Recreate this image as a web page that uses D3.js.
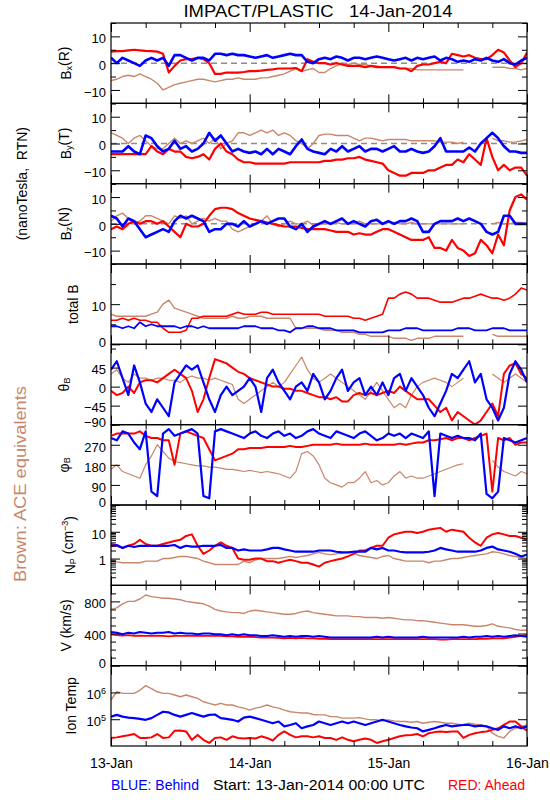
<!DOCTYPE html>
<html><head><meta charset="utf-8">
<script src="https://cdn.jsdelivr.net/npm/d3@7"></script>
<style>
body{margin:0;background:#fff}
text{font-family:"Liberation Sans",Arial,Helvetica,sans-serif;fill:#000}
</style>
</head><body>
<svg id="c" width="550" height="800"></svg>
<script>
// ---- time axis (hours after 13-Jan-2014 00:00 UTC) ----
const hours = d3.range(0, 73);
const dayLabels = ["13-Jan", "14-Jan", "15-Jan", "16-Jan"];

// ---- Bx (R) ----
const bxBlue = [2,0,2,1,0,-1,1, 2,1,2,-1,3,3, 2,1,2,2,1,3.5, 3.5,3,3.5,3,3,2.5, 2,2.5,3,2,2.5,3, 3.5,3,3,0.5,0,1.5, 2,1.5,2.5,2,1,2, 2,1.5,2,2.5,2,1.5, 1,1.5,2,1,2,1.5, 2,2.5,1,2,1.5,0.5, 1,0.5,1.5,1,2,1, 0.5,1.5,0,-0.5,1,2];
const bxRed = [4.3,4.5,4.5,4.8,5,4.8,4.6, 4.5,4.3,3.5,-3.5,-1,1, 1.5,1.5,2,1.5,0,-4, -4,-3.5,-3.5,-3.5,-3.3,-3, -3,-2.8,-2.5,-2.3,-2,-2, -2,-1.8,-3,1.5,0.5,0, 0,-0.5,0,-0.5,-1,-1, -1,-1.5,-1,-1.5,-1.5,-1.5, -1.5,-2,-2,-3,-1,-0.5, -0.5,0,0.5,0,3.5,3, 2.5,3,2,1.5,1.5,3, 5,4,1,-1.5,0,4];
const bxBrown = [-6.5,-6,-5,-4.5,-5,-4,-5, -6,-7.5,-10,-9,-8,-7.5, -7,-6.5,-6,-6,-6.5,-7, -6.5,-6,-6,-5.5,-6,-6, -6,-5.5,-5.5,-5,-4.5,-4, -3,-2,-3,-2.5,-2,-3.5, -3.5,-2,-1,0,-0.5,0, -0.5,-0.5,-1,-1,-1.5,-1.5, -1.5,-2,-2,-2,-2.5,-2.5, -2.5,-2.5,-2.5,-2.5,-2.5,-2.5, -2.5,null,null,null,null,-1.5, -1.5,-1.5,-2,-2,-2.5,-2];

// ---- By (T) ----
const byBlue = [-3,-3,-3,-1,-3,-4,3, 2,-1,-3,-2,1,-2, -1,-3,-2,0,4,1, 3,0,-3,-2,-3,-3.5, -3,-4,-2,-4,-2,-3, -4,-1,1.5,-2,-3,-3.5, -4,-2,-3,-1,-3,-2, -1,-3,-2,-2,-3,-2, -1,-3,-3,-2,-3,-3.5, -3,-1,2,-3,-3,-3, -3,-1.5,-3,0,2,4, 2,-1,-3,-3,-3.5,-3.5];
const byRed = [-4,-4,-4,-4,-4,-4,-4, -1,-3,-4,-2,-3,-3, -5,-5.5,-5,-4,-6,-2, 0,-3,-4,-6,-7,-7, -7.5,-7.5,-7.5,-7.5,-7.5,-7.5, -7,-7,-7,-7,-7,-7, -6.5,-6.5,-6,-6,-5.5,-5.5, -5,-6,-6.5,-7,-7.5,-10, -11,-12,-12,-11,-11,-11, -10,-10,-9,-8,-8,-6, -7,-4,-6,-8,2,-5, -10,-8,-10,-9,-9,-12];
const byBrown = [4,3,2,0,2,3,1, -1,-2,-2,0,2,0, 1,0,1,2,0,2, -2,0,1,4,4,3, 4,5,4,5,3,4, 3,1,0,-2,0,3, 3.5,3.5,3,3,3,2, 1,2,2,1.5,1,1.5, 1.5,1.5,1.5,1,1,1, 1,1,0.5,0.5,0.5,0, 0.5,null,null,null,null,2, 1,1,0.5,0.5,1,1.5];

// ---- Bz (N) ----
const bzBlue = [3,2,-1,2,1,-2,-5, -4,-3,-2,-3,1,3, 2,3,2,1,-3,-2, -2,0,0,-1,1,-1, 0,1,0,1,2,2, -1,-2,0,-3,-1,0, 1,0,1,2,0,1, 0,-1,1,1.5,0,1, 0,1,1,2,1,-3, -3,0,1,1,1,2, 1,2,1,0,-3,-4, -3,3,3,0,0,0];
const bzRed = [-2,-1,-2,0,1,0,1, 1,0,1,-1,-3,-5, 0,-1,-1,0,3,5.5, 6,6,5.5,4,3,2, 1.5,1,0.5,0,-0.5,-1, -1,-1,-1.5,-2,-2,-2, -2,-2.5,-3,-3,-3,-4, -3.5,-4,-4,-3,-2,-2, -3,-4,-5,-6,-6,-6, -5,-9,-9,-10,-6,-9, -10,-12,-11,-6,-8,-11, -4,-8,5,10,11,9];
const bzBrown = [1,3,4,2,0,1,3, 3,2,1,0,3,2, 3,0,1,2,1,2, 1,1,-2,-3,-2,-1, 0,1,3,0,-1,0, 1,0,0,1,-0.5,0, 0,0,0.5,0,0,0, 1,0,0,0,0,0.5, 0.5,0,0,0.5,0,0, 0,0,0,0,0,0, 0,null,null,null,null,0, 0.5,0,0,0.5,0.5,0];

// ---- total B ----
const btBlue = [4.5,4.5,4,4.5,4,5.5,4.5, 5,4.5,4.5,4.5,4.5,4, 4.5,4.5,4,4.5,4,4, 4,4,4,4,4.5,4.5, 4.5,4,4,4,3.5,3.5, 3,4,4,4.5,4.5,4, 4,4,3.5,3.5,3.5,3.5, 3,3,3,3,3,3.5, 3.5,3.5,4,4,4,3.5, 3.5,3.5,3.5,3.5,3.5,4, 4,4,3.5,3.5,3.5,4, 4,4,3.5,3.5,3.5,3.5];
const btRed = [6,6,6.5,6,6.5,6,6, 5.5,5.5,4,3,3,3, 3.5,6.5,6.5,7,7,7, 7,7,7.5,8,7.5,7.5, 7.5,8,8,7.5,7.5,7.5, 7.5,7.5,7.5,7.5,7.5,7.5, 7,7,7,7,7,6.5, 6.5,6,6.5,7,7.5,11.5, 11.5,12.5,13,12.5,11.5,11.5, 11.5,11,10.5,10.5,10.5,11, 11.5,11.5,12,12.5,12,11.5, 11.5,11,11.5,12.5,14,13.5];
const btBrown = [7.5,7,7,7,7,7,7, 7.5,8,10,11,9,8.5, 8,7.5,7,6.5,6.5,6.5, 6.5,6.5,7,6.5,6.5,7, 7,7,6.5,6.5,6.5,6.5, 6.5,4,4,4,4,4, 3.5,3.5,3.5,3,3,3, 2.5,2.5,2,2,2,2, 1.5,1.5,1.5,1,1.5,1.5, 1.5,2,2,2,2,2, 2,null,null,null,null,2.5, 2,2,2,2,2,2];

// ---- theta_B (deg) ----
const thBlue = [40,60,20,-20,50,10,-40, -60,-30,-50,-70,10,30, 50,40,50,10,-30,-60, -20,0,-20,-10,0,20, 0,-60,20,40,10,-10, -30,0,10,-10,30,10, -30,-10,20,40,-10,10, 20,-20,0,-20,10,-20, 20,30,-10,20,0,-20, -50,-70,-40,-10,30,20, 40,60,10,30,-30,-50, -80,-50,30,60,40,10];
const thRed = [-10,-20,-15,0,-15,10,15, 15,10,20,30,40,30, 20,-10,-60,-30,20,65, 60,55,45,35,30,20, 15,10,5,0,0,-5, -5,-10,-10,-15,-20,-25, -25,-30,-25,-35,-35,-20, -15,-20,-15,-20,-15,-10, -15,0,-10,-20,-30,-30, -30,-45,-60,-50,-80,-60, -70,-80,-90,-80,-60,-40, -70,30,50,55,30,20];
const thBrown = [30,40,20,10,30,20,20, 15,20,20,15,15,10, 20,25,20,20,15,20, 15,10,5,-30,-40,-30, -20,-10,0,10,0,10, 30,50,70,40,20,10, 20,30,20,10,0,-10, -20,-30,-10,10,-10,-30, -50,-40,-50,-20,0,10, 15,20,15,10,0,10, 20,null,null,null,null,30, 20,10,20,30,20,10];

// ---- phi_B (deg) ----
const phBlue = [300,290,330,320,280,250,330, 60,40,320,340,310,320, 330,340,320,40,30,330, 340,330,320,310,300,320, 330,310,300,320,330,310, 320,300,310,330,340,320, 310,300,330,320,310,300, 320,330,310,290,300,320, 310,320,300,320,310,300, 330,40,320,310,300,310, 300,300,290,320,50,30, 60,300,290,280,290,300];
const phRed = [310,320,320,320,320,330,310, 300,300,290,290,180,320, 330,320,310,300,250,200, 210,220,230,250,250,255, 255,255,260,260,260,260, 265,260,260,265,270,270, 270,270,275,270,270,270, 270,275,270,270,270,270, 270,275,270,275,280,280, 290,290,295,300,290,300, 300,290,300,310,320,60, 300,290,300,270,280,280];
const phBrown = [160,180,150,140,130,120,180, 220,270,240,210,195,190, 185,180,175,175,170,170, 165,160,160,155,150,155, 150,145,150,145,140,130, 120,150,230,240,220,180, 120,100,90,80,100,100, 120,150,100,110,90,100, 130,150,120,130,120,120, 130,140,150,160,170,180, 185,null,null,null,null,200, 170,150,140,130,150,140];

// ---- N_P (cm^-3) ----
const npBlue = [3,3.2,2.5,3,2.7,3,3, 3,3,3,3,3.2,2.5, 3,2.8,2.8,3,3,3, 3.2,2.5,2.5,2,2.2,2, 2,2,2.2,2.5,2.5,2.2, 2,1.8,1.8,1.8,1.8,2, 2,2,1.8,1.7,1.7,1.8, 1.8,1.8,2.5,2.2,2.5,2, 2,1.8,1.7,1.7,1.7,1.7, 1.8,2,2.5,2.2,2,1.8, 1.8,1.8,1.8,2,2.5,2.8, 2.2,2,1.8,1.5,1.2,1.4];
const npRed = [3.5,3,2.5,3,3.5,5,3.5, 3,3,3.5,4,4.5,5, 7,8,3,1.5,2,3, 4,3,2.5,1,0.9,0.9, 1,1,0.8,0.8,0.7,0.8, 0.9,0.8,0.7,0.7,0.6,0.5, 0.7,0.8,0.9,1,1.2,1.5, 2,2,2.5,3,3,6, 8,9,10,10,9,10, 12,13,14,10,12,11, 10,6,4,3,6,8, 9,8,7,7,6,5];
const npBrown = [0.8,0.75,0.7,0.7,0.7,0.7,0.8, 0.8,0.8,1,1,1.1,1.2, 1.2,1.1,1,0.8,0.7,0.6, 0.6,0.6,0.6,0.6,0.8,0.7, 0.9,1,1,1,1,1.1, 1.2,1.1,1.2,1.3,1.5,1.7, 1.5,1.4,1.5,1.6,1.7,1.6, 1.3,1.2,1.1,1,1.2,1.3, 1,0.9,0.8,0.8,0.8,0.8, 0.7,0.8,0.8,0.9,1,1, 1.1,1.2,1.3,1.4,1.5,1.8, 1.7,1.5,1.3,1.2,1.1,1];

// ---- V (km/s) ----
const vBlue = [420,410,390,410,400,420,410, 400,410,410,420,400,410, 400,400,390,400,400,390, 390,380,390,380,390,380, 380,370,370,380,370,360, 370,360,370,370,360,370, 360,350,350,350,350,350, 350,350,350,360,350,360, 350,350,350,350,350,360, 350,350,350,350,350,350, 360,350,360,360,370,360, 370,360,370,380,370,360];
const vRed = [390,380,375,380,370,375,370, 370,375,370,365,370,370, 370,370,375,370,370,370, 370,365,365,360,360,360, 355,350,350,350,345,340, 345,340,345,340,340,335, 335,330,330,330,330,330, 330,330,330,330,330,330, 330,330,330,330,330,330, 330,330,325,325,330,330, 330,330,330,335,335,340, 340,340,350,360,370,380];
const vBrown = [700,720,770,800,800,830,880, 860,850,840,840,830,820, 800,790,780,770,740,700, 680,670,660,660,650,680, 690,680,670,660,650,640, 640,650,670,680,660,650, 640,630,620,620,620,610, 610,600,600,600,590,600, 590,580,570,570,560,560, 550,540,530,520,510,510, 510,500,490,490,500,520, 490,480,470,450,440,440];

// ---- Ion Temp (K) ----
const tBlue = [1.25e5,1.45e5,1.25e5,1.15e5,1.1e5,1.03e5,9.5e4, 1.1e5,1.45e5,1.9e5,1.8e5,1.45e5,1.25e5, 1.45e5,1.7e5,1.45e5,1.25e5,1.45e5,1.5e5, 1.1e5,1.03e5,9.5e4,8.2e4,1.15e5,1.25e5, 1.1e5,9.5e4,8.2e4,7.1e4,8.2e4,5.4e4, 6.1e4,7.1e4,4.6e4,5.4e4,6.1e4,8.2e4, 7.1e4,6.1e4,7.1e4,8.2e4,7.1e4,8.2e4, 7.1e4,6.1e4,7.1e4,8.2e4,9.5e4,8.2e4, 7.1e4,6.1e4,5.4e4,4.9e4,4.6e4,3.5e4, 4.0e4,4.6e4,5.4e4,6.1e4,5.4e4,5.8e4, 6.1e4,6.1e4,5.4e4,5.8e4,5.4e4,4.6e4, 4.0e4,5.4e4,4.6e4,5.4e4,4.6e4,5.4e4];
const tRed = [2.0e4,2.1e4,2.3e4,2.5e4,2.8e4,2.0e4,2.0e4, 2.1e4,2.8e4,2.0e4,2.1e4,3.7e4,3.8e4, 3.5e4,1.7e4,2.6e4,1.7e4,1.3e4,2.0e4, 2.1e4,1.7e4,2.3e4,2.0e4,1.9e4,2.0e4, 1.9e4,2.3e4,2.0e4,1.6e4,2.6e4,3.5e4, 2.6e4,2.1e4,2.3e4,2.3e4,2.1e4,2.3e4, 2.0e4,2.0e4,1.7e4,2.1e4,1.7e4,1.5e4, 1.7e4,1.9e4,1.7e4,1.3e4,1.5e4,1.7e4, 2.0e4,2.3e4,2.5e4,2.6e4,2.8e4,2.3e4, 3.0e4,3.3e4,3.5e4,3.3e4,3.5e4,3.5e4, 2.0e4,2.6e4,3.0e4,3.3e4,3.5e4,4.0e4, 4.6e4,6.1e4,8.2e4,8.2e4,5.4e4,3.7e4];
const tBrown = [5.2e5,1.06e6,9.2e5,9.2e5,9.2e5,1.2e6,1.8e6, 1.4e6,1.06e6,9.2e5,9.2e5,8.0e5,6.9e5, 8.0e5,6.9e5,6.0e5,4.5e5,3.9e5,3.4e5, 3.9e5,3.4e5,3.4e5,2.9e5,2.6e5,2.2e5, 2.6e5,2.9e5,3.4e5,2.9e5,2.6e5,2.2e5, 1.9e5,1.8e5,1.7e5,1.7e5,1.5e5,1.45e5, 1.45e5,1.25e5,1.25e5,1.1e5,1.1e5,1.1e5, 1.15e5,1.03e5,9.5e4,9.5e4,8.7e4,9.5e4, 8.7e4,8.2e4,8.2e4,7.7e4,8.2e4,7.1e4, 7.7e4,8.2e4,7.7e4,7.1e4,7.1e4,6.5e4, 6.1e4,7.1e4,6.5e4,6.1e4,5.4e4,3.0e4, 2.3e4,2.0e4,3.5e4,4.6e4,5.4e4,6.1e4];

// ---- colours ----
const BLUE = "#0000ff", RED = "#ff0000", BROWN = "#c8876b";

const svg = d3.select("#c");
const L = 111, R = 527, T = 23, B = 746, NP = 9, PH = (B - T) / NP;
const x = d3.scaleLinear().domain([0, 72]).range([L, R]);

function sub(t, main, s, rest) {
  t.append("tspan").text(main);
  t.append("tspan").attr("dy", "0.35em").attr("font-size", "9px").text(s);
  if (rest) t.append("tspan").attr("dy", "-0.35em").text(rest);
}

const panels = [
  {series:[bxBrown,bxRed,bxBlue], w:[1.4,2.2,2.6], type:"lin", dom:[-15,15], major:[-10,0,10], minor:[-15,-5,5,15], zero:true, label:t=>sub(t,"B","x","(R)"), lx:66},
  {series:[byBrown,byRed,byBlue], w:[1.4,2.2,2.6], type:"lin", dom:[-15,15], major:[-10,0,10], minor:[-15,-5,5,15], zero:true, label:t=>sub(t,"B","y","(T)"), lx:66},
  {series:[bzBrown,bzRed,bzBlue], w:[1.4,2.2,2.6], type:"lin", dom:[-15,15], major:[-10,0,10], minor:[-15,-5,5,15], zero:true, label:t=>sub(t,"B","z","(N)"), lx:66},
  {series:[btBrown,btRed,btBlue], w:[1.4,1.6,1.8], type:"lin", dom:[0,20], major:[0,10], minor:[5,15,20], zero:false, label:t=>t.text("total B"), lx:73},
  {series:[thBrown,thRed,thBlue], w:[1.2,2,2.2], type:"lin", dom:[-90,100], major:[-90,-45,0,45], minor:[90], zero:false, label:t=>sub(t,"\u03B8","B"), lx:64},
  {series:[phBrown,phRed,phBlue], w:[1.2,2,2.2], type:"lin", dom:[0,360], major:[0,90,180,270], minor:[360], zero:false, label:t=>sub(t,"\u03C6","B"), lx:64},
  {series:[npBrown,npRed,npBlue], w:[1.4,2,2.2], type:"log", dom:[0.1,100], major:[1,10], zero:false,
   label:t=>{sub(t,"N","P"," (cm");t.append("tspan").attr("dy","-0.4em").attr("font-size","9px").text("\u22123");t.append("tspan").attr("dy","0.4em").text(")");}, lx:70, logMinor:true},
  {series:[vBrown,vRed,vBlue], w:[1.4,1.8,2], type:"lin", dom:[0,1000], major:[0,400,800], minor:[100,200,300,500,600,700,900], zero:false, label:t=>t.text("V (km/s)"), lx:66},
  {series:[tBrown,tRed,tBlue], w:[1.4,2,2.2], type:"log", dom:[1e4,1e7], major:[1e5,1e6], zero:false, label:t=>t.text("Ion Temp"), lx:71, expLabels:true}
];
const colors = [BROWN, RED, BLUE];
const defs = svg.append("defs");

panels.forEach((p, i) => {
  const y0 = T + i * PH, y1 = y0 + PH;
  const y = (p.type === "log" ? d3.scaleLog() : d3.scaleLinear()).domain(p.dom).range([y1, y0]);
  const g = svg.append("g");
  const cid = "clip" + i;
  defs.append("clipPath").attr("id", cid)
    .append("rect").attr("x", L).attr("y", y0).attr("width", R - L).attr("height", PH);

  if (p.zero) {
    g.append("line").attr("x1", L).attr("x2", R).attr("y1", y(0)).attr("y2", y(0))
      .attr("stroke", "#8c8c8c").attr("stroke-width", 1.5).attr("stroke-dasharray", "6,4");
  }
  const dg = g.append("g").attr("clip-path", `url(#${cid})`);
  p.series.forEach((s, k) => {
    const line = d3.line().defined(d => d != null).x((d, j) => x(hours[j])).y(d => y(d));
    dg.append("path").datum(s).attr("d", line).attr("fill", "none")
      .attr("stroke", colors[k]).attr("stroke-width", p.w[k]).attr("stroke-linejoin", "round");
  });

  let minor = p.minor || [];
  if (p.logMinor) {
    minor = [];
    for (let e = -1; e < 2; e++) for (let m = 2; m <= 9; m++) minor.push(m * Math.pow(10, e));
  }
  const la = g.append("g").attr("transform", `translate(${L},0)`)
    .call(d3.axisLeft(y).tickValues(p.major).tickSize(-9).tickPadding(5)
      .tickFormat(d => p.expLabels ? "10" : d3.format("d")(d)));
  la.selectAll("text").attr("font-size", "13px").attr("font-family", "Liberation Sans, Arial, sans-serif")
    .attr("dy", d => (d === p.dom[0] ? "0.15em" : "0.48em"));
  if (p.expLabels) {
    la.selectAll("text").append("tspan").attr("dy", "-0.55em").attr("font-size", "9px")
      .text(d => Math.round(Math.log10(d)));
  }
  g.append("g").attr("transform", `translate(${L},0)`)
    .call(d3.axisLeft(y).tickValues(minor).tickSize(-5).tickFormat(""));
  g.append("g").attr("transform", `translate(${R},0)`)
    .call(d3.axisRight(y).tickValues(p.major).tickSize(-9).tickFormat(""));
  g.append("g").attr("transform", `translate(${R},0)`)
    .call(d3.axisRight(y).tickValues(minor).tickSize(-5).tickFormat(""));
  const dayT = [0, 24, 48, 72], sixT = [6,12,18,30,36,42,54,60,66];
  g.append("g").attr("transform", `translate(0,${y0})`)
    .call(d3.axisTop(x).tickValues(dayT).tickSize(-9).tickFormat(""));
  g.append("g").attr("transform", `translate(0,${y0})`)
    .call(d3.axisTop(x).tickValues(sixT).tickSize(-5).tickFormat(""));
  const ba = g.append("g").attr("transform", `translate(0,${y1})`)
    .call(d3.axisBottom(x).tickValues(dayT).tickSize(-9).tickPadding(12)
      .tickFormat((d, j) => i === NP - 1 ? dayLabels[j] : ""));
  ba.selectAll("text").attr("font-size", "14px").attr("font-family", "Liberation Sans, Arial, sans-serif");
  g.append("g").attr("transform", `translate(0,${y1})`)
    .call(d3.axisBottom(x).tickValues(sixT).tickSize(-5).tickFormat(""));
  g.selectAll(".domain").remove();
  g.selectAll(".tick line").attr("stroke", "#000");
  g.append("rect").attr("x", L).attr("y", y0).attr("width", R - L).attr("height", PH)
    .attr("fill", "none").attr("stroke", "#000").attr("stroke-width", 1.2);
  const t = svg.append("text").attr("transform", `translate(${p.lx},${(y0 + y1) / 2}) rotate(-90)`)
    .attr("text-anchor", "middle").attr("dominant-baseline", "central").attr("font-size", "14px");
  p.label(t);
});

svg.append("text").attr("x", 318).attr("y", 17).attr("text-anchor", "middle").attr("font-size", "17px")
  .attr("textLength", 269).attr("lengthAdjust", "spacingAndGlyphs")
  .style("white-space", "pre").text("IMPACT/PLASTIC   14-Jan-2014");
svg.append("text").attr("transform", `translate(22,${T + 2 * PH}) rotate(-90)`)
  .attr("text-anchor", "middle").attr("dominant-baseline", "central").attr("font-size", "14px")
  .style("white-space", "pre").text("(nanoTesla,  RTN)");
svg.append("text").attr("transform", `translate(20,484) rotate(-90)`)
  .attr("text-anchor", "middle").attr("dominant-baseline", "central").attr("font-size", "16px")
  .attr("textLength", 196).attr("lengthAdjust", "spacingAndGlyphs")
  .style("fill", BROWN).text("Brown: ACE equivalents");
svg.append("text").attr("x", 111).attr("y", 790).attr("font-size", "14px").style("fill", BLUE).text("BLUE: Behind");
svg.append("text").attr("x", 319).attr("y", 790).attr("text-anchor", "middle").attr("font-size", "14px")
  .attr("textLength", 212).attr("lengthAdjust", "spacingAndGlyphs").text("Start: 13-Jan-2014 00:00 UTC");
svg.append("text").attr("x", 525).attr("y", 790).attr("text-anchor", "end").attr("font-size", "14px").style("fill", RED).text("RED: Ahead");
</script>
</body></html>
